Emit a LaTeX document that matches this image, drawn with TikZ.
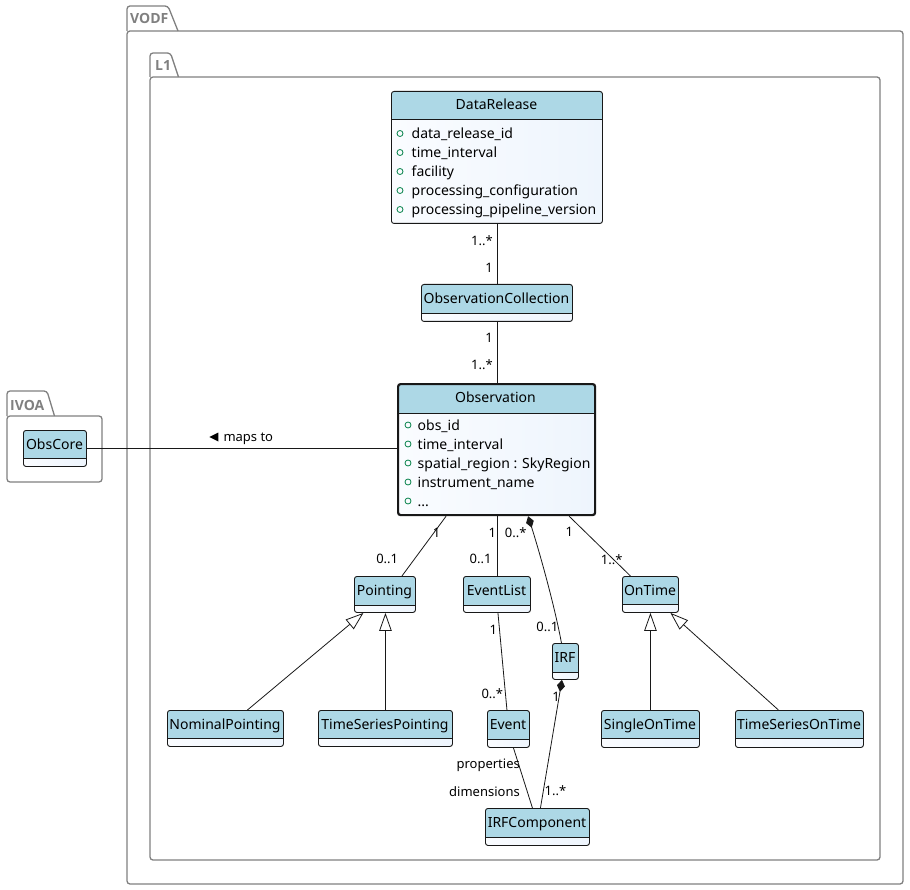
\documentclass[tikz,border=0pt]{standalone}
\usepackage{fontspec}
\setmainfont{Noto Sans}
\newfontfamily\pkgfont{Open Sans}
\usetikzlibrary{arrows.meta}
\definecolor{hdr}{HTML}{ADD8E6}
\definecolor{bodyL}{HTML}{FAFCFF}
\definecolor{bodyR}{HTML}{EEF5FD}
\definecolor{pkg}{HTML}{808080}
\definecolor{edge}{HTML}{181818}
\definecolor{attrc}{HTML}{038048}
\tikzset{
  cls/.style={draw=edge, line width=0.9pt, rounded corners=2.5pt, inner sep=0pt,
    anchor=north west, left color=bodyL, right color=bodyR},
  hdrh/.style={path picture={
    \fill[hdr] (path picture bounding box.north west) rectangle ([yshift=-#1 pt]path picture bounding box.north east);
    \draw[edge, line width=0.9pt] ([yshift=-#1 pt]path picture bounding box.north west) -- ([yshift=-#1 pt]path picture bounding box.north east);}},
  clstitle/.style={font=\fontsize{14}{16}\selectfont, inner sep=0pt, text height=10pt, text depth=0pt, text=black},
  attrtext/.style={font=\fontsize{14}{16}\selectfont, inner sep=0pt, text height=10pt, text depth=0pt, anchor=west, text=black},
  lbl/.style={font=\fontsize{13}{15}\selectfont, inner sep=0pt, text height=9.3pt, text depth=0pt, text=black},
  pkgline/.style={draw=pkg, line width=1.3pt, rounded corners=3pt},
  pkglbl/.style={font=\fontsize{14}{16}\pkgfont\bfseries, text=pkg, inner sep=0pt, anchor=west, text height=10pt, text depth=0pt},
  conn/.style={draw=edge, line width=0.8pt},
  inh/.style={conn, -{Triangle[open, length=18pt, width=12.5pt]}},
  comp/.style={conn, {Diamond[length=12pt, width=8pt]}-},
}
\newcommand\umlcls[8][]{%
  \pgfmathsetmacro\cw{#5-#3}\pgfmathsetmacro\ch{#6-#4}\pgfmathsetmacro\hh{#7-#4}%
  \node[cls, #1, minimum width=\cw pt, minimum height=\ch pt, hdrh=\hh] (#2) at (#3,#4) {};
  \node[clstitle] (#2-t) at ({(#3+#5)/2},{(#4+#7)/2}) {#8};}
\newcommand\umlattr[5]{% name, circle x, text x, y, text
  \draw[attrc, line width=0.8pt] (#2,#4) circle (3pt);
  \node[attrtext] (#1) at (#3,#4) {#5};}
\begin{document}
\begin{tikzpicture}[x=1pt, y=-1pt]
\useasboundingbox (0,0) rectangle (910,890);
% packages
\draw[pkgline] (127,31) rectangle (903,884);
\draw[pkgline] (127,31) -- (127,6) -- (168,6) -- (178,31);
\node[pkglbl] (vodf) at (130,19) {VODF};
\draw[pkgline] (150,77) rectangle (880,860);
\draw[pkgline] (150,77) -- (150,53) -- (170.5,53) -- (178.5,77);
\node[pkglbl] (l1) at (155,65.5) {L1};
\draw[pkgline] (7,416) rectangle (102,482);
\draw[pkgline] (7,416) -- (7,391) -- (47,391) -- (54.5,416);
\node[pkglbl] (ivoa) at (10,405) {IVOA};
% classes
\umlcls{obscore}{23}{430}{86}{466}{458}{ObsCore}
\umlcls{dr}{391}{91}{602}{223}{119}{DataRelease}
\umlattr{dr-a1}{400}{411.5}{133.5}{data\_release\_id}
\umlattr{dr-a2}{400}{411.5}{152.5}{time\_interval}
\umlattr{dr-a3}{400}{411.5}{171.5}{facility}
\umlattr{dr-a4}{400}{411.5}{190.5}{processing\_configuration}
\umlattr{dr-a5}{400}{411.5}{209.5}{processing\_pipeline\_version}
\umlcls{oc}{421}{284}{572}{321}{313}{ObservationCollection}
\umlcls[line width=2.2pt]{obs}{397}{383}{594}{514}{412}{Observation}
\umlattr{obs-a1}{408}{417.5}{425}{obs\_id}
\umlattr{obs-a2}{408}{417.5}{444}{time\_interval}
\umlattr{obs-a3}{408}{417.5}{463}{spatial\_region : SkyRegion}
\umlattr{obs-a4}{408}{417.5}{482}{instrument\_name}
\umlattr{obs-a5}{408}{417.5}{501}{...}
\umlcls{pt}{354}{576}{415}{612}{605}{Pointing}
\umlcls{el}{463}{576}{530}{612}{605}{EventList}
\umlcls{ot}{622}{576}{678}{612}{604}{OnTime}
\umlcls{irf}{552}{643}{578}{679}{672}{IRF}
\umlcls{np}{167}{710}{283}{746}{738}{NominalPointing}
\umlcls{tsp}{318}{710}{452}{746}{738}{TimeSeriesPointing}
\umlcls{ev}{487}{710}{529}{747}{739}{Event}
\umlcls{sot}{601}{710}{699}{747}{738}{SingleOnTime}
\umlcls{tsot}{735}{710}{863}{747}{738}{TimeSeriesOnTime}
\umlcls{irfc}{485}{808}{589}{845}{837}{IRFComponent}
% connectors
\draw[conn] (dr.south) -- (oc.north);
\draw[conn] (oc.south) -- (oc.south |- obs.north);
\draw[conn] (obscore.east) -- (obscore.east -| obs.west);
\draw[conn] ([xshift=-50.5pt]obs.south) -- ([xshift=17pt]pt.north);
\draw[conn] (el.north) -- (el.north |- obs.south);
\draw[comp] ([xshift=31.5pt]obs.south) .. controls +(13,41) and +(-6,-33) .. ([xshift=-4pt]irf.north);
\draw[conn] ([xshift=72.5pt]obs.south) -- ([xshift=-20pt]ot.north);
\draw[inh] ([xshift=22pt]np.north) -- ([xshift=-21.5pt]pt.south);
\draw[inh] (tsp.north) -- (tsp.north |- pt.south);
\draw[inh] (sot.north) -- (ot.south);
\draw[inh] ([xshift=-21pt]tsot.north) -- ([xshift=20pt]ot.south);
\draw[conn] ([xshift=1pt]el.south) -- ([xshift=-1.5pt]ev.north);
\draw[comp] ([xshift=-3.5pt]irf.south) -- ([xshift=3pt]irfc.north);
\draw[conn] ([xshift=5pt]ev.south) -- ([xshift=-5pt]irfc.north);
% labels
\node[lbl, anchor=east] (m1) at (493,241) {1..*};
\node[lbl, anchor=east] (m2) at (493,268) {1};
\node[lbl, anchor=east] (m3) at (493,338) {1};
\node[lbl, anchor=east] (m4) at (493,365) {1..*};
\node[lbl] (m5) at (436.7,533) {1};
\node[lbl, anchor=east] (m6) at (398.3,559) {0..1};
\node[lbl] (m7) at (492.3,533) {1};
\node[lbl, anchor=east] (m8) at (491.7,559) {0..1};
\node[lbl] (m9) at (515.7,533) {0..*};
\node[lbl] (m10) at (547.3,626.7) {0..1};
\node[lbl] (m11) at (569.3,532.3) {1};
\node[lbl] (m12) at (611.7,560) {1..*};
\node[lbl] (m13) at (493.3,630) {1};
\node[lbl] (m14) at (492.3,694) {0..*};
\node[lbl] (m15) at (556,697) {1};
\node[lbl] (m16) at (555.5,791) {1..*};
\node[lbl, anchor=east] (m17) at (520,764.3) {properties};
\node[lbl, anchor=east] (m18) at (520,791.7) {dimensions};
\node[lbl, anchor=west] (maps) at (223.3,437) {maps to};
\fill[black] (209.3,437) -- (218.3,432.5) -- (218.3,441.5) -- cycle;
\end{tikzpicture}
\end{document}
